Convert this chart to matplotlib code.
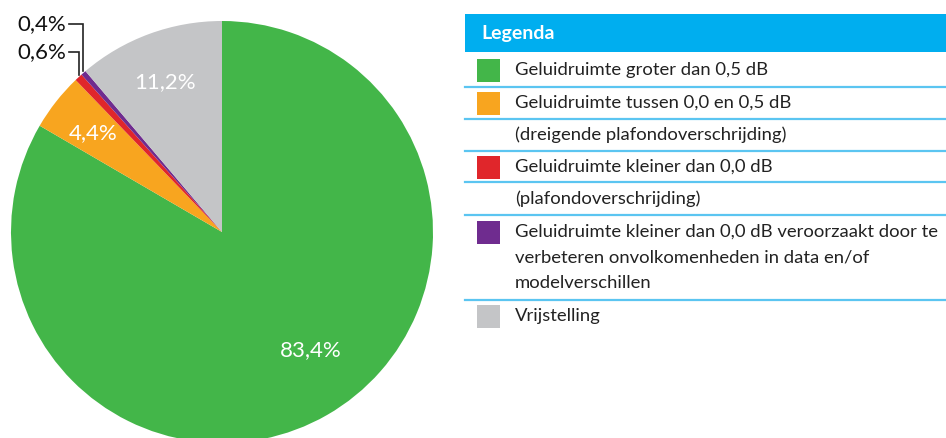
import numpy as np
import matplotlib
matplotlib.use("Agg")
import matplotlib.pyplot as plt
from matplotlib.patches import Rectangle

plt.rcParams['font.family'] = ['Lato', 'DejaVu Sans']

# Data
shares = [83.4, 4.4, 0.6, 0.4, 11.2]
share_labels = ['83,4%', '4,4%', '0,6%', '0,4%', '11,2%']
colors = ['#43b649', '#f8a51f', '#e0262b', '#6f2c8f', '#c4c5c7']
legend_rows = [
    ['Geluidruimte groter dan 0,5 dB'],
    ['Geluidruimte tussen 0,0 en 0,5 dB'],
    ['(dreigende plafondoverschrijding)'],
    ['Geluidruimte kleiner dan 0,0 dB'],
    ['(plafondoverschrijding)'],
    ['Geluidruimte kleiner dan 0,0 dB veroorzaakt door te',
     'verbeteren onvolkomenheden in data en/of',
     'modelverschillen'],
    ['Vrijstelling'],
]
row_colors = ['#43b649', '#f8a51f', None, '#e0262b', None, '#6f2c8f', '#c4c5c7']

W, H = 946, 438
fig = plt.figure(figsize=(W / 100, H / 100), dpi=100)
ax = fig.add_axes([0, 0, 1, 1])


def py(y):
    # pixel row (from top) -> data y
    return H - y


# pie, pixel layout
cx, cy, r = 222, py(232), 211
wedges, _ = ax.pie(shares, colors=colors, startangle=90, counterclock=False,
                   center=(cx, cy), radius=r, frame=True,
                   wedgeprops=dict(linewidth=0))
ax.set_xlim(0, W)
ax.set_ylim(0, H)
ax.set_aspect('equal')
ax.axis('off')

# labels inside the big slices: (angle in deg, fraction of radius)
inside = {0: (-53, 0.70), 1: (142.7, 0.77), 4: (111, 0.76)}
for i, (ang, f) in inside.items():
    a = np.deg2rad(ang)
    ax.text(cx + f * r * np.cos(a), cy + f * r * np.sin(a), share_labels[i],
            color='white', fontsize=16, ha='center', va='center')

# leader labels for the thin slices
label_y = {2: py(52), 3: py(24)}
for i, ly in label_y.items():
    w = wedges[i]
    a = np.deg2rad((w.theta1 + w.theta2) / 2)
    x0, y0 = cx + r * np.cos(a), cy + r * np.sin(a)
    ax.plot([x0, x0, 69], [y0 + 2, ly, ly], color='#222222', lw=1.2,
            solid_joinstyle='miter')
    ax.text(66, ly, share_labels[i], fontsize=16, ha='right', va='center',
            color='#111111')

# legend table
lx0, lx1 = 465, W
ax.add_patch(Rectangle((lx0, py(52)), lx1 - lx0, 38, color='#00aeef', lw=0))
ax.text(481, py(33), 'Legenda', color='white', fontsize=14,
        fontweight='bold', va='center')

row_y = [70, 103, 135, 167, 199, 232, 316]
seps = [87, 119, 151, 182, 215, 300]
for y in seps:
    ax.plot([lx0, lx1], [py(y), py(y)], color='#5bc5f1', lw=1.6)

line_gap = 25.5
for lines, c, y in zip(legend_rows, row_colors, row_y):
    if c:
        ax.add_patch(Rectangle((477, py(y + 11.5)), 23, 23, color=c, lw=0))
    for k, t in enumerate(lines):
        ax.text(515, py(y + k * line_gap), t, fontsize=13.3, va='center',
                color='#222222')

fig.savefig('out.png', dpi=100)
